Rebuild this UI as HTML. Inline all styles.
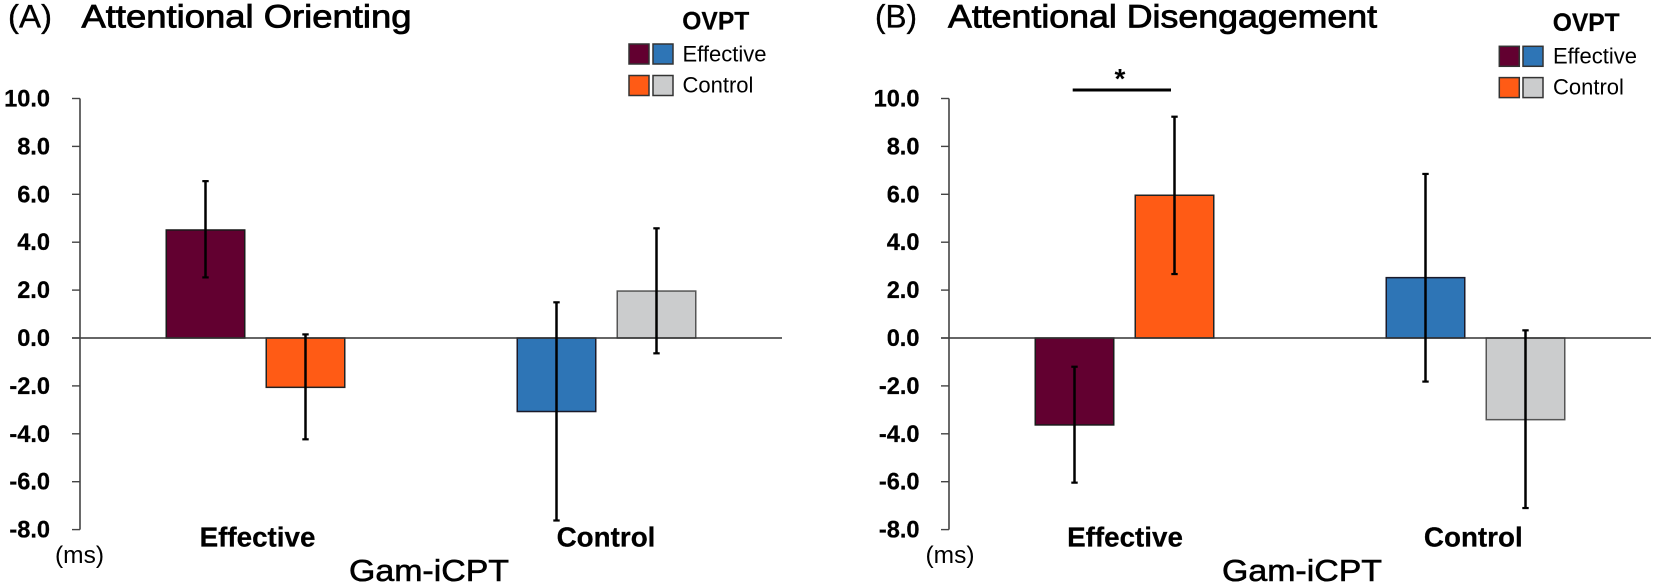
<!DOCTYPE html>
<html lang="en">
<head>
<meta charset="utf-8">
<title>Attentional Orienting and Disengagement</title>
<style>
html,body{margin:0;padding:0;background:#fff;}
svg{display:block;}
text{font-family:"Liberation Sans",Arial,sans-serif;fill:#000;}
.title{font-size:32px;stroke:#000;stroke-width:.8px;}
.label{font-size:32px;stroke:#000;stroke-width:.35px;}
.tick{font-size:23.6px;font-weight:bold;text-anchor:end;stroke:#000;stroke-width:.25px;}
.cat{font-size:27.8px;font-weight:bold;text-anchor:middle;stroke:#000;stroke-width:.25px;}
.ms{font-size:24.5px;}
.gam{font-size:31px;stroke:#000;stroke-width:.6px;}
.lt{font-size:24.6px;font-weight:bold;stroke:#000;stroke-width:.2px;}
.li{font-size:22px;}
</style>
</head>
<body>
<svg id="chart" xmlns="http://www.w3.org/2000/svg" width="1654" height="585" viewBox="0 0 1654 585">
  <rect x="0" y="0" width="1654" height="585" fill="#ffffff"/>

  <g id="panel-a"></g>
  <g id="panel-b"></g>

  <text class="label" x="8" y="27.5" textLength="44" lengthAdjust="spacingAndGlyphs">(A)</text>
  <text class="title" x="81.5" y="27.5" textLength="330" lengthAdjust="spacingAndGlyphs">Attentional Orienting</text>
  <text class="label" x="875" y="27.5" textLength="42" lengthAdjust="spacingAndGlyphs">(B)</text>
  <text class="title" x="948" y="27.5" textLength="429" lengthAdjust="spacingAndGlyphs">Attentional Disengagement</text>

  <text class="ms" x="55" y="563">(ms)</text>
  <text class="ms" x="925.5" y="563">(ms)</text>
  <text class="gam" x="349" y="581" textLength="160" lengthAdjust="spacingAndGlyphs">Gam-iCPT</text>
  <text class="gam" x="1222" y="581" textLength="160" lengthAdjust="spacingAndGlyphs">Gam-iCPT</text>

  <line x1="1072.7" y1="90" x2="1171" y2="90" stroke="#000" stroke-width="3"/>
  <text x="1120" y="88" font-size="28" font-weight="bold" text-anchor="middle">*</text>

  <g>
    <text class="lt" x="682.3" y="29.5">OVPT</text>
    <rect x="629" y="44" width="20" height="20" fill="#620030" stroke="#333" stroke-width="1.5"/>
    <rect x="653" y="44" width="20" height="20" fill="#2e75b6" stroke="#333" stroke-width="1.5"/>
    <text class="li" x="682.5" y="61.7">Effective</text>
    <rect x="629" y="75.5" width="20" height="20" fill="#ff5b15" stroke="#333" stroke-width="1.5"/>
    <rect x="653" y="75.5" width="20" height="20" fill="#cbcccd" stroke="#333" stroke-width="1.5"/>
    <text class="li" x="682.5" y="92.7">Control</text>
  </g>
  <g>
    <text class="lt" x="1552.7" y="31">OVPT</text>
    <rect x="1499.3" y="46.3" width="20" height="20" fill="#620030" stroke="#333" stroke-width="1.5"/>
    <rect x="1523" y="46.3" width="20" height="20" fill="#2e75b6" stroke="#333" stroke-width="1.5"/>
    <text class="li" x="1553" y="63.3">Effective</text>
    <rect x="1499.3" y="77.6" width="20" height="20" fill="#ff5b15" stroke="#333" stroke-width="1.5"/>
    <rect x="1523" y="77.6" width="20" height="20" fill="#cbcccd" stroke="#333" stroke-width="1.5"/>
    <text class="li" x="1553" y="94.7">Control</text>
  </g>
</svg>
<script>
const categories = ['Effective', 'Control'];
const tickValues = [10, 8, 6, 4, 2, 0, -2, -4, -6, -8];
const tickLabels = ['10.0', '8.0', '6.0', '4.0', '2.0', '0.0', '-2.0', '-4.0', '-6.0', '-8.0'];

const orientingEffective = [4.51, -2.06];
const orientingControl = [-3.07, 1.96];
const orientingEffectiveHigh = [6.55, 0.15];
const orientingEffectiveLow = [2.53, -4.23];
const orientingControlHigh = [1.49, 4.58];
const orientingControlLow = [-7.62, -0.64];

const disengagementEffective = [-3.63, 5.96];
const disengagementControl = [2.52, -3.41];
const disengagementEffectiveHigh = [-1.2, 9.24];
const disengagementEffectiveLow = [-6.04, 2.67];
const disengagementControlHigh = [6.85, 0.32];
const disengagementControlLow = [-1.82, -7.1];

const NS = 'http://www.w3.org/2000/svg';
const ZERO_Y = 338;
const PX_PER_UNIT = 23.95;
const CATEGORY_WIDTH = 351;
const BAR_STEP = 100;
const BAR_WIDTH = 78.5;
const barFills = [['#620030', '#ff5b15'], ['#2e75b6', '#cbcccd']];
const barStrokes = [['#1a1a1a', '#222222'], ['#1a1a2a', '#555555']];

function yScale(v) {
  return ZERO_Y - v * PX_PER_UNIT;
}
function xScale(axisX, cat, series) {
  return axisX + CATEGORY_WIDTH * (cat + 0.5) + (series - 0.5) * BAR_STEP;
}
function make(tag, attrs, parent) {
  const el = document.createElementNS(NS, tag);
  for (const k in attrs) el.setAttribute(k, attrs[k]);
  parent.appendChild(el);
  return el;
}

function drawAxes(g, axisX, labelOffset, catCenters) {
  const axis = make('line', { x1: axisX, y1: yScale(10), x2: axisX, y2: yScale(-8), stroke: '#444', 'stroke-width': 1.6 }, g);
  
  
  tickValues.forEach(function (v, i) {
    const tick = make('line', { x1: axisX - 8, y1: yScale(v), x2: axisX, y2: yScale(v), stroke: '#444', 'stroke-width': 1.4 }, g);
    
    
    const label = make('text', { x: axisX - labelOffset, y: yScale(v) + 8, class: 'tick' }, g);
    label.textContent = tickLabels[i];
    
    
  });
  categories.forEach(function (name, i) {
    const label = make('text', { x: catCenters[i], y: 546.7, class: 'cat' }, g);
    label.textContent = name;
    
    
  });
}

function drawBar(g, x, value, fill, stroke) {
  const top = Math.min(yScale(value), ZERO_Y);
  const h = Math.abs(yScale(value) - ZERO_Y);
  const bar = make('rect', { x: x - BAR_WIDTH / 2, y: top, width: BAR_WIDTH, height: h, fill: fill, stroke: stroke, 'stroke-width': 1.5 }, g);
  
  
}

function drawError(g, x, high, low) {
  const stem = make('line', { x1: x, y1: yScale(high), x2: x, y2: yScale(low), stroke: '#000', 'stroke-width': 2.5 }, g);
  
  
  [high, low].forEach(function (v) {
    const cap = make('line', { x1: x - 3.2, y1: yScale(v), x2: x + 3.2, y2: yScale(v), stroke: '#000', 'stroke-width': 2.2 }, g);
    
    
  });
}

function drawPanel(id, axisX, labelOffset, catCenters, series) {
  const g = document.getElementById(id);
  series.forEach(function (s, c) {
    s.values.forEach(function (v, i) {
      drawBar(g, xScale(axisX, c, i), v, barFills[c][i], barStrokes[c][i]);
    });
  });
  const zero = make('line', { x1: axisX - 8, y1: ZERO_Y, x2: axisX + CATEGORY_WIDTH * categories.length, y2: ZERO_Y, stroke: '#333', 'stroke-width': 1.5 }, g);
  
  
  series.forEach(function (s, c) {
    s.values.forEach(function (v, i) {
      drawError(g, xScale(axisX, c, i), s.high[i], s.low[i]);
    });
  });
  drawAxes(g, axisX, labelOffset, catCenters);
}

drawPanel('panel-a', 80, 30, [257.5, 606], [
  { values: orientingEffective, high: orientingEffectiveHigh, low: orientingEffectiveLow },
  { values: orientingControl, high: orientingControlHigh, low: orientingControlLow }
]);
drawPanel('panel-b', 949, 29.5, [1125, 1473.3], [
  { values: disengagementEffective, high: disengagementEffectiveHigh, low: disengagementEffectiveLow },
  { values: disengagementControl, high: disengagementControlHigh, low: disengagementControlLow }
]);
</script>
</body>
</html>
